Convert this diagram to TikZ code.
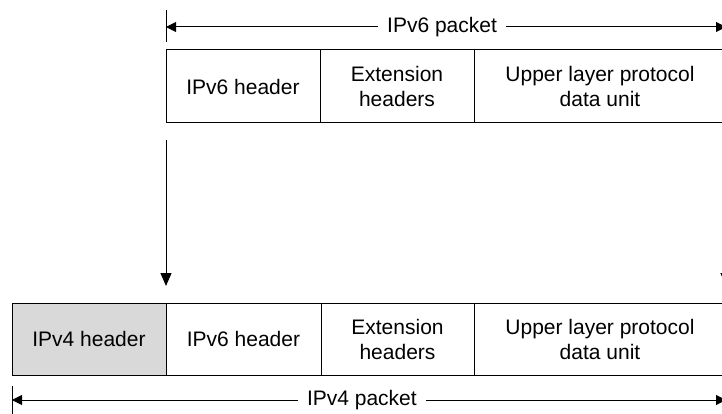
\documentclass[tikz,border=0pt]{standalone}
\usepackage{fontspec}
\setmainfont{Liberation Sans}
\usetikzlibrary{arrows.meta,calc,positioning}

\begin{document}
\begin{tikzpicture}[x=1pt,y=-1pt,
  every node/.style={font=\fontsize{21}{25}\selectfont},
  cell/.style={draw,line width=1pt,align=center,inner sep=0pt,outer sep=0pt,anchor=north west},
  pkt/.style={line width=1pt,{Triangle[length=10pt,width=10pt]}-{Triangle[length=10pt,width=10pt]}},
  down/.style={line width=1pt,-{Triangle[length=13pt,width=11pt]},shorten <=17pt,shorten >=17pt}]

\useasboundingbox (0,0) rectangle (722,414);

%% IPv6 packet (top row)
\def\sixcells{166/154/{IPv6 header},
  320/154/{Extension\\headers},
  474/252/{Upper layer protocol\\data unit}}
\foreach \x/\w/\t [count=\i] in \sixcells
{
\node[cell,minimum width=\w pt,minimum height=73pt] (six\i) at (\x,50) {\t};
}

%% IPv4 packet (bottom row)
\def\fourcells{12/154/gray!30/{IPv4 header},
  166/155/white/{IPv6 header},
  321/153/white/{Extension\\headers},
  474/252/white/{Upper layer protocol\\data unit}}
\foreach \x/\w/\c/\t [count=\i] in \fourcells
{
\node[cell,fill=\c,minimum width=\w pt,minimum height=72pt] (four\i) at (\x,303) {\t};
}

%% packet lengths
\draw [line width=1pt] (166,10) -- (166,42);
\coordinate (sixL) at (166,27);
\coordinate (sixR) at (726,27);
\draw [pkt] (sixL) -- (sixR) node[pos=0.493,fill=white,inner xsep=9pt,inner ysep=1pt] (sixlen) {IPv6 packet};

\draw [line width=1pt] (12,386) -- (12,420);
\coordinate (fourL) at (12,400);
\coordinate (fourR) at (726,400);
\draw [pkt] (fourL) -- (fourR) node[pos=0.49,fill=white,inner xsep=9pt,inner ysep=1pt] (fourlen) {IPv4 packet};

%% encapsulation
\draw [down] (six1.south west) -- (four2.north west);
\draw [down] (six3.south east) -- (four4.north east);

\end{tikzpicture}
\end{document}
